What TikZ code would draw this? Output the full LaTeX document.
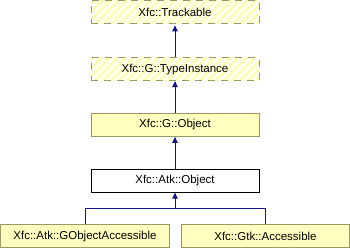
\documentclass[tikz,border=0pt]{standalone}
\usepackage{fontspec}
\setmainfont{Liberation Sans}
\usepackage{xcolor}
\usetikzlibrary{arrows.meta,positioning,patterns.meta,calc}

\definecolor{edgeblue}{RGB}{20,20,130}
\definecolor{boxfill}{RGB}{255,255,192}
\definecolor{boxline}{RGB}{153,153,102}
\definecolor{stripe}{RGB}{255,255,176}

\begin{document}
\begin{tikzpicture}[
  font=\fontsize{11.5}{13}\selectfont, node distance=31.75pt,
  cls/.style={draw=boxline, fill=boxfill, line width=1pt, minimum width=168pt, minimum height=23pt, inner sep=0pt},
  cur/.style={draw=black, fill=white, line width=1pt, minimum width=168pt, minimum height=23pt, inner sep=0pt},
  ext/.style={draw=boxline, line width=1pt, dash pattern=on 7pt off 6pt, minimum width=168pt, minimum height=23pt, inner sep=0pt,
    pattern={Lines[angle=45, distance=5.7pt, line width=2.8pt]}, pattern color=stripe},
  arr/.style={draw=edgeblue, line width=1pt, -{Triangle[length=6pt, width=5.5pt]}}
]
  \useasboundingbox (0pt,0pt) rectangle (350pt,-248pt);

  \node[ext] (trackable) at (175pt,-12.5pt) {Xfc::Trackable};
  \node[ext, below=of trackable] (typeinst) {Xfc::G::TypeInstance};
  \node[cls, below=of typeinst] (gobject) {Xfc::G::Object};
  \node[cur, below=of gobject] (atkobject) {Xfc::Atk::Object};
  \node[cls, minimum width=169pt, below=31.75pt of atkobject, xshift=-90pt] (gobjacc) {Xfc::Atk::GObjectAccessible};
  \node[cls, minimum width=168pt, below=31.75pt of atkobject, xshift=90.5pt] (gtkacc) {Xfc::Gtk::Accessible};

  % inheritance edges
  \draw[arr] (typeinst) -- (trackable);
  \draw[arr] (gobject) -- (typeinst);
  \draw[arr] (atkobject) -- (gobject);
  \coordinate (fork) at ($(atkobject.south)+(0,-16pt)$);
  \draw[edgeblue, line width=1pt] (gobjacc.north) |- (fork) -| (gtkacc.north);
  \draw[arr] (fork) -- (atkobject);
\end{tikzpicture}
\end{document}
